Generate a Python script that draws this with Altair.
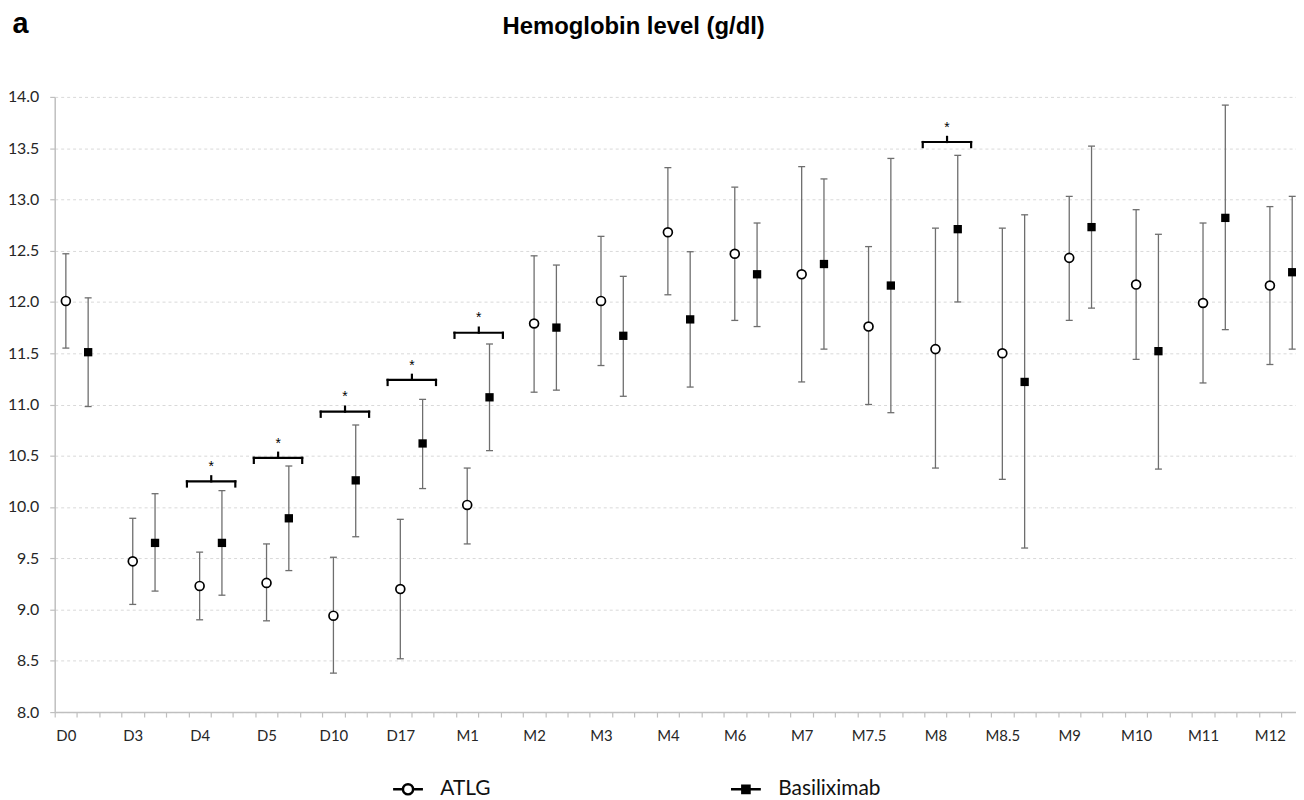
import json
import altair as alt
import pandas as pd

# ---------------- data ----------------
labels = ["D0", "D3", "D4", "D5", "D10", "D17", "M1", "M2", "M3", "M4",
          "M6", "M7", "M7.5", "M8", "M8.5", "M9", "M10", "M11", "M12"]

atlg_mean = [12.01, 9.47, 9.23, 9.26, 8.94, 9.20, 10.02, 11.79, 12.01, 12.68,
             12.47, 12.27, 11.76, 11.54, 11.50, 12.43, 12.17, 11.99, 12.16]
atlg_upper = [12.47, 9.89, 9.56, 9.64, 9.51, 9.88, 10.38, 12.45, 12.64, 13.31,
              13.12, 13.32, 12.54, 12.72, 12.72, 13.03, 12.90, 12.77, 12.93]
atlg_lower = [11.55, 9.05, 8.90, 8.89, 8.38, 8.52, 9.64, 11.12, 11.38, 12.07,
              11.82, 11.22, 11.00, 10.38, 10.27, 11.82, 11.44, 11.21, 11.39]

basi_mean = [11.51, 9.65, 9.65, 9.89, 10.26, 10.62, 11.07, 11.75, 11.67, 11.83,
             12.27, 12.37, 12.16, 12.71, 11.22, 12.73, 11.52, 12.82, 12.29]
basi_upper = [12.04, 10.13, 10.16, 10.40, 10.80, 11.05, 11.59, 12.36, 12.25, 12.49,
              12.77, 13.20, 13.40, 13.43, 12.85, 13.52, 12.66, 13.92, 13.03]
basi_lower = [10.98, 9.18, 9.14, 9.38, 9.71, 10.18, 10.55, 11.14, 11.08, 11.17,
              11.76, 11.54, 10.92, 12.00, 9.60, 11.94, 10.37, 11.73, 11.54]

groups = ["ATLG", "Basiliximab"]

# significance brackets (time point, height of bracket in g/dl)
sig_labels = ["D4", "D5", "D10", "D17", "M1", "M8"]
sig_y = [10.25, 10.48, 10.93, 11.24, 11.70, 13.56]

# ---------------- tables ----------------
rows = []
for i, lab in enumerate(labels):
    rows.append(dict(label=lab, group="ATLG", pos=3 * i,
                     mean=atlg_mean[i], hi=atlg_upper[i], lo=atlg_lower[i]))
    rows.append(dict(label=lab, group="Basiliximab", pos=3 * i + 1,
                     mean=basi_mean[i], hi=basi_upper[i], lo=basi_lower[i]))
df = pd.DataFrame(rows)

br = pd.DataFrame({"label": sig_labels, "y": sig_y})
idx = br["label"].map(labels.index)
br["x1"] = 3 * idx - 0.57
br["x2"] = 3 * idx + 1.6
br["xm"] = 3 * idx + 0.52
br["ytip"] = br["y"] + 0.05
br["yhook"] = br["y"] - 0.05
br["yast"] = br["y"] + 0.10
br["star"] = "*"

# ---------------- scales / axes ----------------
xscale = alt.Scale(domain=[-0.5, 55.17], nice=False, zero=False)
yscale = alt.Scale(domain=[8, 14], nice=False, zero=False)

label_js = json.dumps(labels)
x_axis = alt.Axis(
    values=[k - 0.5 for k in range(56)], tickCount=200,
    labelExpr=f"(datum.value + 0.5) % 3 == 0 ? {label_js}[round((datum.value + 0.5) / 3)] : ''",
    labelOffset=11.2, labelAlign="center", labelBaseline="middle", labelPadding=18.5,
    labelOverlap=False, labelFlush=False, labelFont="Lato", labelFontSize=15,
    labelColor="#262626",
    tickSize=5, tickColor="#bfbfbf", tickWidth=1.2,
    domainColor="#bfbfbf", domainWidth=1.5, grid=False,
    title="Hemoglobin level (g/dl)", titleX=582, titleY=-682.8,
    titleAlign="center", titleBaseline="alphabetic", titleAngle=0,
    titleFont="Liberation Sans", titleFontSize=24, titleFontWeight="bold",
    titleColor="black",
)
y_axis = alt.Axis(
    values=[8 + 0.5 * k for k in range(13)], tickCount=50, format=".1f",
    labelFont="Lato", labelFontSize=16, labelColor="#262626", labelPadding=11,
    tickSize=5, tickColor="#bfbfbf", tickWidth=1.2,
    domainColor="#bfbfbf", domainWidth=1.5,
    grid=True, gridDash=[3, 3], gridColor="#d9d9d9", gridWidth=1,
    title="a", titleAngle=0, titleX=-43, titleY=-65, titleAlign="left",
    titleBaseline="alphabetic", titleFont="Liberation Sans", titleFontSize=29,
    titleFontWeight="bold", titleColor="black",
)

base = alt.Chart(df)
X = alt.X("pos:Q", scale=xscale, axis=x_axis)

bars = base.mark_rule(color="#6e6e6e", strokeWidth=1.3).encode(
    x=X, y=alt.Y("lo:Q", scale=yscale, axis=y_axis), y2="hi:Q")
cap_hi = base.mark_tick(orient="horizontal", color="#6e6e6e", thickness=1.3,
                        size=7, opacity=1).encode(x="pos:Q", y="hi:Q")
cap_lo = base.mark_tick(orient="horizontal", color="#6e6e6e", thickness=1.3,
                        size=7, opacity=1).encode(x="pos:Q", y="lo:Q")

circles = base.transform_filter(alt.datum.group == "ATLG").mark_point(
    shape="circle", filled=True, fill="white", stroke="black",
    strokeWidth=1.7, size=80, opacity=1).encode(x="pos:Q", y="mean:Q")
squares = base.transform_filter(alt.datum.group == "Basiliximab").mark_square(
    size=70, color="black", opacity=1).encode(x="pos:Q", y="mean:Q")

bb = alt.Chart(br)
rule_kw = dict(color="black", strokeWidth=2.2, strokeCap="square")
b_top = bb.mark_rule(**rule_kw).encode(x="x1:Q", x2="x2:Q", y="y:Q")
b_left = bb.mark_rule(**rule_kw).encode(x="x1:Q", y="yhook:Q", y2="y:Q")
b_right = bb.mark_rule(**rule_kw).encode(x="x2:Q", y="yhook:Q", y2="y:Q")
b_tip = bb.mark_rule(**rule_kw).encode(x="xm:Q", y="y:Q", y2="ytip:Q")
stars = bb.mark_text(font="Liberation Sans", fontSize=14, baseline="alphabetic",
                     align="center", color="black").encode(
    x="xm:Q", y="yast:Q", text="star:N")

# legend (drawn only as legend; its layer keeps no rows)
atlg_sym = ("M-1,0H-0.36M0.36,0H1"
            "M0.34,0A0.34,0.34,0,1,1,-0.34,0A0.34,0.34,0,1,1,0.34,0Z")
basi_sym = "M-1,0H1M-0.24,-0.24H0.24V0.24H-0.24Z"
leg = alt.Legend(title=None, orient="none", direction="horizontal",
                 legendX=339, legendY=680, symbolSize=900,
                 symbolStrokeWidth=2.5,
                 symbolOpacity=1, labelFont="Lato", labelFontSize=21,
                 labelColor="#111111", labelOffset=16, columnPadding=236,
                 labelLimit=300)
legend_layer = alt.Chart(pd.DataFrame({"group": groups})).transform_filter(
    "false").mark_point(filled=True, strokeWidth=2.5, opacity=1).encode(
    shape=alt.Shape("group:N", scale=alt.Scale(domain=groups,
                                                range=[atlg_sym, basi_sym]),
                    legend=leg),
    fill=alt.Fill("group:N", scale=alt.Scale(domain=groups,
                                              range=["white", "black"]),
                  legend=leg),
    stroke=alt.Stroke("group:N", scale=alt.Scale(domain=groups,
                                                  range=["black", "black"]),
                      legend=leg),
)

chart = alt.layer(
    bars, cap_hi, cap_lo, b_top, b_left, b_right, b_tip, stars,
    circles, squares, legend_layer
).properties(
    width=1249, height=619,
    autosize=alt.AutoSizeParams(type="none"),
    padding={"left": 47, "top": 87, "right": 0, "bottom": 84},
    background="white",
).configure_view(stroke=None)

chart.save("out.html", embed_options={"renderer": "svg", "actions": False})
